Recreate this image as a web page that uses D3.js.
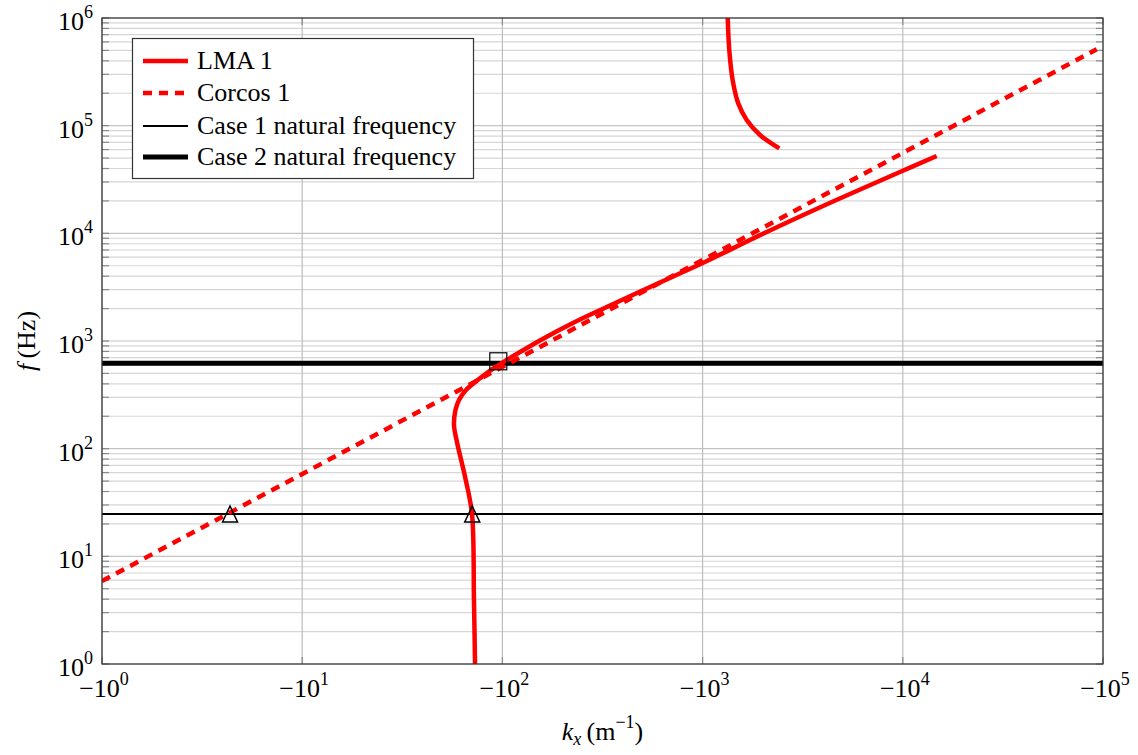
<!DOCTYPE html>
<html>
<head>
<meta charset="utf-8">
<script src="https://cdn.jsdelivr.net/npm/d3@7"></script>
<style>
  body { margin: 0; background: #fff; }
  svg text { font-family: "Liberation Serif", "DejaVu Serif", serif; fill: #000; }
</style>
</head>
<body>
<div id="chart"></div>
<script>
// wavenumber k_x (1/m, negative) and frequency f (Hz)
var lmaLowK = [-73, -72.1, -70.5, -65.6, -59.0, -57.3, -58.3, -60.7, -65.8, -77.3, -90.1, -105.1, -154, -225, -332, -488, -713, -1001, -2091, -4480, -9680, -14760];
var lmaLowF = [1, 3.93, 24.7, 51.2, 120.3, 165.9, 228.6, 283.1, 350.6, 450.3, 557.6, 666, 1011, 1469, 2069, 2883, 3972, 5301, 10290, 19750, 37110, 52250];
var lmaHighK = [-1335, -1359, -1413, -1507, -1661, -1935, -2416];
var lmaHighF = [1e6, 5.04e5, 2.65e5, 1.61e5, 1.13e5, 8.19e4, 6.15e4];
var corcosK = [-1, -93000];
var corcosF = [5.9, 5.12e5];
var case1F = 24.7;
var case2F = 620;
var triangleK = [-4.36, -70.7];
var triangleF = [24.7, 24.7];
var squareK = [-95.4];
var squareF = [648];
var xTickExp = [0, 1, 2, 3, 4, 5];
var yTickExp = [0, 1, 2, 3, 4, 5, 6];
var legendNames = ["LMA 1", "Corcos 1", "Case 1 natural frequency", "Case 2 natural frequency"];

var W = 1138, H = 755;
var mL = 102, mR = 1103, mT = 18, mB = 664;

var svg = d3.select("#chart").append("svg")
    .attr("width", W).attr("height", H);

var x = d3.scaleLog().domain([-1, -1e5]).range([mL, mR]);
var y = d3.scaleLog().domain([1, 1e6]).range([mB, mT]);

svg.append("clipPath").attr("id", "clip")
    .append("rect").attr("x", mL).attr("y", mT)
    .attr("width", mR - mL).attr("height", mB - mT);

// grid: minor horizontal lines, then majors
var minorY = [];
yTickExp.slice(0, -1).forEach(function(e) {
    for (var m = 2; m < 10; m++) minorY.push(m * Math.pow(10, e));
});
var grid = svg.append("g");
grid.selectAll(".gminor").data(minorY).enter().append("line")
    .attr("x1", mL).attr("x2", mR)
    .attr("y1", function(d) { return y(d); }).attr("y2", function(d) { return y(d); })
    .attr("stroke", "#d6d6d6").attr("stroke-width", 1.2);
grid.selectAll(".gmajy").data(yTickExp).enter().append("line")
    .attr("x1", mL).attr("x2", mR)
    .attr("y1", function(d) { return y(Math.pow(10, d)); }).attr("y2", function(d) { return y(Math.pow(10, d)); })
    .attr("stroke", "#c4c4c4").attr("stroke-width", 1.2);
grid.selectAll(".gmajx").data(xTickExp).enter().append("line")
    .attr("y1", mT).attr("y2", mB)
    .attr("x1", function(d) { return x(-Math.pow(10, d)); }).attr("x2", function(d) { return x(-Math.pow(10, d)); })
    .attr("stroke", "#bdbdbd").attr("stroke-width", 1.2);

// tick marks (inward, both sides)
var ticks = svg.append("g").attr("stroke", "#8a8a8a").attr("stroke-width", 1.2);
minorY.concat(yTickExp.map(function(e) { return Math.pow(10, e); })).forEach(function(v) {
    ticks.append("line").attr("x1", mL).attr("x2", mL + 7).attr("y1", y(v)).attr("y2", y(v));
    ticks.append("line").attr("x1", mR - 7).attr("x2", mR).attr("y1", y(v)).attr("y2", y(v));
});
xTickExp.forEach(function(e) {
    var px = x(-Math.pow(10, e));
    ticks.append("line").attr("x1", px).attr("x2", px).attr("y1", mT).attr("y2", mT + 7);
    ticks.append("line").attr("x1", px).attr("x2", px).attr("y1", mB - 7).attr("y2", mB);
});

var plot = svg.append("g").attr("clip-path", "url(#clip)");

function pts(ks, fs) { return ks.map(function(k, i) { return [k, fs[i]]; }); }
var line = d3.line()
    .x(function(d) { return x(d[0]); })
    .y(function(d) { return y(d[1]); })
    .curve(d3.curveCatmullRom.alpha(0.5));

// natural frequencies
plot.append("line").attr("x1", mL).attr("x2", mR)
    .attr("y1", y(case1F)).attr("y2", y(case1F))
    .attr("stroke", "#000").attr("stroke-width", 2);
plot.append("line").attr("x1", mL).attr("x2", mR)
    .attr("y1", y(case2F)).attr("y2", y(case2F))
    .attr("stroke", "#000").attr("stroke-width", 5);

plot.append("path").datum(pts(corcosK, corcosF))
    .attr("d", line).attr("fill", "none")
    .attr("stroke", "#ff0000").attr("stroke-width", 4.5)
    .attr("stroke-dasharray", "9,7");
plot.append("path").datum(pts(lmaLowK, lmaLowF))
    .attr("d", line).attr("fill", "none")
    .attr("stroke", "#ff0000").attr("stroke-width", 4.5);
plot.append("path").datum(pts(lmaHighK, lmaHighF))
    .attr("d", line).attr("fill", "none")
    .attr("stroke", "#ff0000").attr("stroke-width", 4.5);

// markers
plot.selectAll(".tri").data(pts(triangleK, triangleF)).enter().append("path")
    .attr("transform", function(d) { return "translate(" + x(d[0]) + "," + y(d[1]) + ")"; })
    .attr("d", "M0,-8L7.5,8L-7.5,8Z")
    .attr("fill", "none").attr("stroke", "#000").attr("stroke-width", 1.5);
plot.selectAll(".sq").data(pts(squareK, squareF)).enter().append("rect")
    .attr("x", function(d) { return x(d[0]) - 8.5; })
    .attr("y", function(d) { return y(d[1]) - 8.5; })
    .attr("width", 17).attr("height", 17)
    .attr("fill", "none").attr("stroke", "#000").attr("stroke-width", 1.2);

// frame
svg.append("rect").attr("x", mL).attr("y", mT)
    .attr("width", mR - mL).attr("height", mB - mT)
    .attr("fill", "none").attr("stroke", "#333").attr("stroke-width", 1.2);

// tick labels
var yl = svg.append("g");
yTickExp.forEach(function(e) {
    var t = yl.append("text").attr("x", 93).attr("y", y(Math.pow(10, e)) + 12)
        .attr("text-anchor", "end").style("font-size", "26px");
    t.append("tspan").text("10");
    t.append("tspan").attr("dy", -12).style("font-size", "18px").text(e);
});
xTickExp.forEach(function(e) {
    var t = yl.append("text").attr("x", x(-Math.pow(10, e)) + 2).attr("y", 697)
        .attr("text-anchor", "middle").style("font-size", "26px");
    t.append("tspan").text("\u221210");
    t.append("tspan").attr("dy", -12).style("font-size", "18px").text(e);
});

// axis titles
var xt = svg.append("text").attr("x", (mL + mR) / 2).attr("y", 740)
    .attr("text-anchor", "middle").style("font-size", "26px");
xt.append("tspan").style("font-style", "italic").text("k");
xt.append("tspan").attr("dy", 5).style("font-size", "18px").style("font-style", "italic").text("x");
xt.append("tspan").attr("dy", -5).text("\u2009(m");
xt.append("tspan").attr("dy", -12).style("font-size", "18px").text("\u22121");
xt.append("tspan").attr("dy", 12).text(")");

var ytl = svg.append("text")
    .attr("transform", "translate(35," + ((mT + mB) / 2) + ") rotate(-90)")
    .attr("text-anchor", "middle").style("font-size", "26px");
ytl.append("tspan").style("font-style", "italic").text("f");
ytl.append("tspan").text("\u2009(Hz)");

// legend
var lg = svg.append("g");
lg.append("rect").attr("x", 132.5).attr("y", 38.5).attr("width", 341).attr("height", 140)
    .attr("fill", "#fff").attr("stroke", "#333").attr("stroke-width", 1.2);
var lgStyle = [
    { c: "#ff0000", w: 4.5, dash: null },
    { c: "#ff0000", w: 4.5, dash: "9,7" },
    { c: "#000", w: 2, dash: null },
    { c: "#000", w: 5, dash: null }
];
var rowY = [61, 93, 126, 157];
legendNames.forEach(function(name, i) {
    lg.append("line").attr("x1", 143).attr("x2", 188).attr("y1", rowY[i]).attr("y2", rowY[i])
        .attr("stroke", lgStyle[i].c).attr("stroke-width", lgStyle[i].w)
        .attr("stroke-dasharray", lgStyle[i].dash);
    lg.append("text").attr("x", 197).attr("y", rowY[i] + 8)
        .style("font-size", "26px").text(name);
});
</script>
</body>
</html>
